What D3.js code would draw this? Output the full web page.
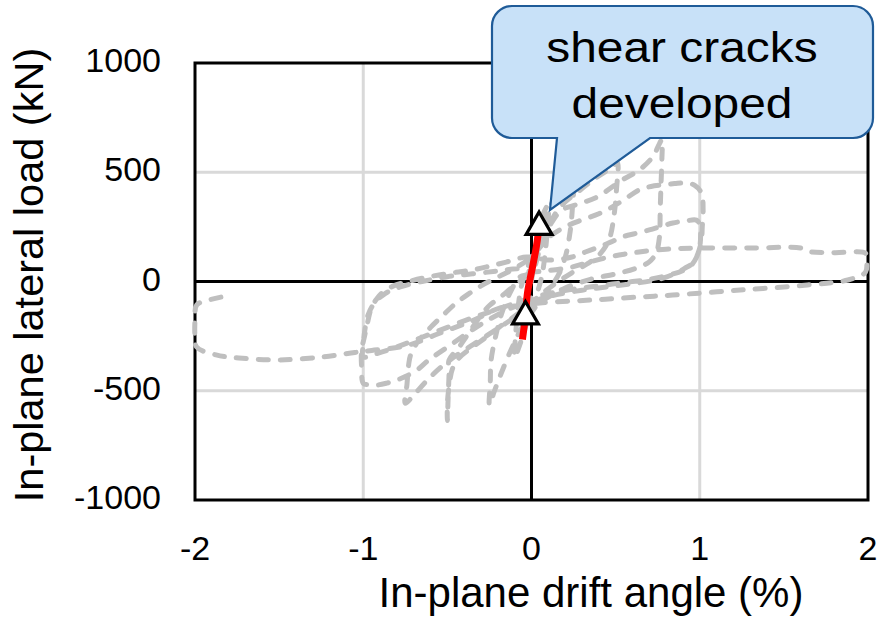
<!DOCTYPE html>
<html>
<head>
<meta charset="utf-8">
<script src="https://cdn.jsdelivr.net/npm/d3@7"></script>
<style>
  html, body { margin: 0; padding: 0; background: #fff; }
  svg { display: block; }
  text { font-family: "Liberation Sans", Arial, sans-serif; fill: #000; }
</style>
</head>
<body>
<svg id="chart" width="881" height="620"></svg>
<script>
// Axis ticks
const xTicks = [-2, -1, 0, 1, 2];
const yTicks = [-1000, -500, 0, 500, 1000];
const xTitle = "In-plane drift angle (%)";
const yTitle = "In-plane lateral load (kN)";
const calloutLines = ["shear cracks", "developed"];

// Cyclic load history: [drift angle (%), lateral load (kN)]
const cycle01 = [
  [0, 0], [0.02, 120], [0.045, 250], [0.07, 310], [0.1, 350], [0.095, 250], [0.08, 120],
  [0.06, 20], [0.03, -60], [-0.01, -140], [-0.04, -220], [-0.07, -290], [-0.1, -347],
  [-0.095, -250], [-0.08, -120], [-0.06, -20], [-0.03, 50], [0, 110]
];
const cycle025 = [
  [0.04, 200], [0.08, 290], [0.13, 370], [0.19, 430], [0.25, 480], [0.245, 360], [0.23, 230],
  [0.2, 110], [0.16, 30], [0.1, -40], [0.03, -110], [-0.05, -200], [-0.12, -310],
  [-0.18, -420], [-0.22, -500], [-0.25, -565], [-0.245, -460], [-0.24, -360], [-0.21, -240],
  [-0.17, -130], [-0.12, -40], [-0.07, 20], [0, 40]
];
const cycle05 = [
  [0.05, 150], [0.1, 250], [0.17, 341], [0.29, 419], [0.39, 478], [0.48, 524], [0.51, 545],
  [0.505, 420], [0.49, 300], [0.46, 190], [0.4, 120], [0.33, 80], [0.24, 40], [0.14, -10],
  [0.04, -70], [-0.03, -117], [-0.12, -170], [-0.19, -208], [-0.27, -255], [-0.35, -300],
  [-0.43, -350], [-0.47, -400], [-0.49, -480], [-0.5, -560], [-0.5, -636], [-0.495, -520],
  [-0.49, -420], [-0.49, -360], [-0.43, -300], [-0.39, -255], [-0.31, -165], [-0.25, -110],
  [-0.19, -75], [-0.12, -30], [-0.07, 0], [0, 60]
];
const cycle075 = [
  [0.06, 180], [0.12, 270], [0.18, 327], [0.28, 355], [0.39, 387], [0.54, 465], [0.64, 510],
  [0.72, 570], [0.76, 630], [0.775, 650], [0.775, 560], [0.77, 450], [0.765, 330], [0.76, 200],
  [0.74, 130], [0.7, 90], [0.62, 60], [0.5, 35], [0.35, 10], [0.2, -30], [0.08, -80],
  [-0.05, -140], [-0.15, -190], [-0.25, -240], [-0.35, -290], [-0.45, -340], [-0.55, -400],
  [-0.63, -460], [-0.7, -520], [-0.75, -557], [-0.74, -470], [-0.73, -380], [-0.72, -340],
  [-0.68, -280], [-0.6, -210], [-0.52, -150], [-0.45, -100], [-0.38, -60], [-0.3, -20],
  [-0.2, 20], [-0.1, 60], [0, 112]
];
const cycle10a = [
  [0.1, 200], [0.2, 250], [0.3, 282], [0.4, 310], [0.48, 341], [0.56, 380], [0.64, 419],
  [0.71, 435], [0.78, 442], [0.85, 448], [0.92, 451], [0.97, 440], [1.01, 405], [1.02, 327],
  [1.015, 250], [1.01, 190], [0.99, 130], [0.96, 85], [0.91, 60], [0.86, 39], [0.8, 20],
  [0.74, 7], [0.6, -10], [0.45, -25], [0.3, -40], [0.15, -60], [0.03, -85], [-0.1, -115],
  [-0.22, -160], [-0.35, -220], [-0.48, -290], [-0.61, -359], [-0.68, -405], [-0.75, -435],
  [-0.8, -451], [-0.86, -465], [-0.92, -474], [-0.97, -472], [-1.0, -466], [-1.01, -390],
  [-1.01, -313], [-0.995, -260], [-0.98, -208], [-0.95, -117], [-0.92, -80], [-0.89, -53],
  [-0.82, -20], [-0.74, -2], [-0.65, 15], [-0.55, 30], [-0.45, 42], [-0.35, 53], [-0.25, 70],
  [-0.15, 89], [-0.03, 112]
];
const cycle10b = [
  [0.11, 98], [0.24, 112], [0.32, 135], [0.4, 158], [0.47, 180], [0.54, 204], [0.62, 220],
  [0.7, 236], [0.77, 252], [0.84, 268], [0.91, 276], [0.98, 281], [1.0, 260], [1.005, 210],
  [1.0, 160], [0.98, 110], [0.95, 75], [0.9, 50], [0.82, 30], [0.7, 10], [0.55, -5],
  [0.4, -20], [0.25, -35], [0.1, -55], [0, -75], [-0.12, -105], [-0.25, -140], [-0.4, -180],
  [-0.55, -225], [-0.7, -270], [-0.82, -305], [-0.92, -330], [-1.0, -345], [-1.0, -290],
  [-0.99, -220], [-0.97, -150], [-0.93, -95], [-0.87, -55], [-0.78, -25], [-0.65, 0],
  [-0.5, 22], [-0.35, 35], [-0.2, 48], [-0.08, 58], [0, 45]
];
const cycle20 = [
  [0.1, 50], [0.24, 66], [0.35, 90], [0.46, 112], [0.55, 125], [0.64, 135], [0.8, 148],
  [1.0, 153], [1.3, 153], [1.6, 153], [1.65, 137], [1.8, 132], [1.985, 130], [1.99, 105],
  [1.985, 43], [1.88, 7], [1.64, -16], [1.24, -39], [0.84, -62], [0.64, -71], [0.35, -85],
  [0.05, -98], [-0.07, -110], [-0.19, -122], [-0.35, -179], [-0.55, -238], [-0.74, -293],
  [-0.95, -316], [-1.05, -325], [-1.24, -345], [-1.5, -359], [-1.74, -350], [-1.875, -336],
  [-1.99, -300], [-2.0, -254], [-2.0, -176], [-1.99, -108], [-1.92, -85], [-1.78, -62]
];
const loadHistory = [cycle01, cycle025, cycle05, cycle075, cycle10a, cycle10b, cycle20];

// Initial loading up to shear cracking
const initialLoading = [[-0.054, -265], [-0.036, -160], [-0.024, -53], [0.006, 66], [0.03, 165], [0.045, 250]];
const crackPoints = [[0.045, 250], [-0.036, -160]];

const svg = d3.select("#chart");
const plotL = 195, plotR = 868, plotT = 63, plotB = 500;
const x = d3.scaleLinear().domain([-2, 2]).range([plotL, plotR]);
const y = d3.scaleLinear().domain([-1000, 1000]).range([plotB, plotT]);

// Light gridlines
const grid = svg.append("g");
grid.selectAll("line.gx").data(xTicks.filter(d => d !== 0 && Math.abs(d) !== 2)).join("line")
  .attr("x1", d => x(d)).attr("x2", d => x(d)).attr("y1", plotT).attr("y2", plotB)
  .attr("stroke", "#d9d9d9").attr("stroke-width", 3);
grid.selectAll("line.gy").data(yTicks.filter(d => d !== 0 && Math.abs(d) !== 1000)).join("line")
  .attr("x1", plotL).attr("x2", plotR).attr("y1", d => y(d)).attr("y2", d => y(d))
  .attr("stroke", "#d9d9d9").attr("stroke-width", 3);

// Zero axes and frame
svg.append("line").attr("x1", x(0)).attr("x2", x(0)).attr("y1", plotT).attr("y2", plotB)
  .attr("stroke", "#000").attr("stroke-width", 3);
svg.append("line").attr("x1", plotL).attr("x2", plotR).attr("y1", y(0)).attr("y2", y(0))
  .attr("stroke", "#000").attr("stroke-width", 3);
svg.append("rect").attr("x", plotL).attr("y", plotT).attr("width", plotR - plotL).attr("height", plotB - plotT)
  .attr("fill", "none").attr("stroke", "#000").attr("stroke-width", 3);

// Tick labels
svg.append("g").selectAll("text").data(yTicks).join("text")
  .attr("x", 161).attr("y", d => y(d) + 9)
  .attr("text-anchor", "end").attr("font-size", 34).text(d => d);
svg.append("g").selectAll("text").data(xTicks).join("text")
  .attr("x", d => x(d)).attr("y", 560)
  .attr("text-anchor", "middle").attr("font-size", 34).text(d => d);

// Axis titles
svg.append("text").attr("x", 591).attr("y", 607).attr("text-anchor", "middle")
  .attr("font-size", 42).text(xTitle);
svg.append("text").attr("transform", "translate(43,275) rotate(-90)").attr("text-anchor", "middle")
  .attr("font-size", 41.5).text(yTitle);

// Hysteresis loops
const line = d3.line().x(d => x(d[0])).y(d => y(d[1])).curve(d3.curveCatmullRom.alpha(0.5));
svg.append("path").datum(loadHistory.flat()).attr("d", line)
  .attr("fill", "none").attr("stroke", "#bfbfbf").attr("stroke-width", 5)
  .attr("stroke-linecap", "round").attr("stroke-linejoin", "round")
  .attr("stroke-dasharray", "10 12");

// Initial stiffness branch
svg.append("path").datum(initialLoading).attr("d", line)
  .attr("fill", "none").attr("stroke", "#ff0000").attr("stroke-width", 7);

// Cracking markers
const tri = d3.symbol().type(d3.symbolTriangle).size(290);
svg.append("g").selectAll("path").data(crackPoints).join("path")
  .attr("transform", d => `translate(${x(d[0])},${y(d[1])})`)
  .attr("d", tri).attr("fill", "#fff").attr("stroke", "#000").attr("stroke-width", 3.2);

// Callout bubble
const bx0 = 492, bx1 = 873, by0 = 6, by1 = 138, r = 20;
const tail = { a: 650, tipX: 550, tipY: 210, b: 557 };
const p = d3.path();
p.moveTo(bx0 + r, by0);
p.lineTo(bx1 - r, by0);
p.arcTo(bx1, by0, bx1, by0 + r, r);
p.lineTo(bx1, by1 - r);
p.arcTo(bx1, by1, bx1 - r, by1, r);
p.lineTo(tail.a, by1);
p.lineTo(tail.tipX, tail.tipY);
p.lineTo(tail.b, by1);
p.lineTo(bx0 + r, by1);
p.arcTo(bx0, by1, bx0, by1 - r, r);
p.lineTo(bx0, by0 + r);
p.arcTo(bx0, by0, bx0 + r, by0, r);
p.closePath();
svg.append("path").attr("d", p.toString())
  .attr("fill", "#c8e1f8").attr("stroke", "#1f5b98").attr("stroke-width", 2.2);
// Callout text is set slightly wide
svg.append("g").selectAll("text").data(calloutLines).join("text")
  .attr("x", 682).attr("y", (d, i) => 62 + i * 56)
  .attr("text-anchor", "middle").attr("font-size", 42).text(d => d)
  .attr("lengthAdjust", "spacingAndGlyphs")
  .attr("textLength", function () { return this.getComputedTextLength() * 1.14; });
</script>
</body>
</html>
